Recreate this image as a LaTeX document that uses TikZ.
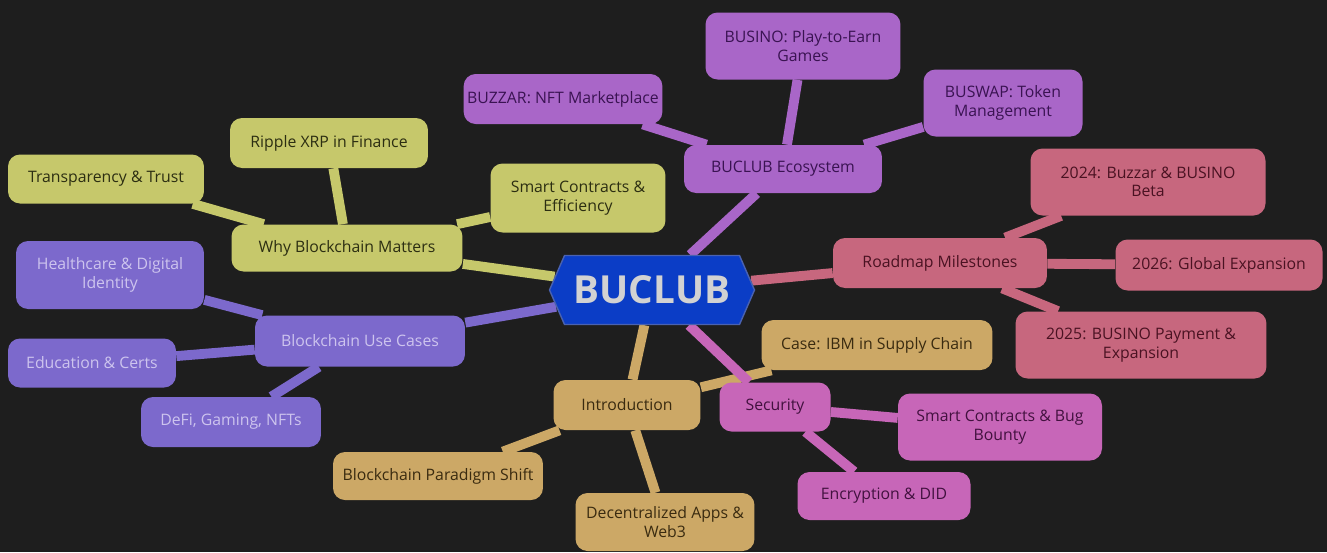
\documentclass[tikz,border=0pt]{standalone}
\usepackage{fontspec}
\setmainfont{Open Sans}
\usetikzlibrary{shapes.symbols,backgrounds}

\definecolor{bgdark}{HTML}{1E1E1E}
\definecolor{hubfill}{HTML}{0B3DC6}
\definecolor{hubline}{HTML}{4A62B0}
\definecolor{hubtext}{HTML}{D2D2D2}
\definecolor{whyfill}{HTML}{C6C86B}
\definecolor{whytext}{HTML}{2C2E12}
\definecolor{ecofill}{HTML}{A966C8}
\definecolor{ecotext}{HTML}{3A1352}
\definecolor{mapfill}{HTML}{C7677E}
\definecolor{maptext}{HTML}{4A1222}
\definecolor{usefill}{HTML}{7C69CC}
\definecolor{usetext}{HTML}{CDC4EE}
\definecolor{introfill}{HTML}{CCA866}
\definecolor{introtext}{HTML}{3A2B10}
\definecolor{secfill}{HTML}{C766B8}
\definecolor{sectext}{HTML}{42113F}

\tikzset{
  topic/.style={rectangle, rounded corners=0.24cm, inner sep=2pt, align=center,
    font=\fontsize{9}{10.5}\selectfont},
  hub/.style={signal, signal to=west and east, signal pointer angle=133,
    fill=hubfill, draw=hubline, line width=0.8pt, text=hubtext,
    minimum width=4.1cm, minimum height=1.38cm, inner sep=0pt,
    font=\fontsize{22}{24}\selectfont\bfseries},
  whybox/.style={topic, fill=whyfill, text=whytext},
  ecobox/.style={topic, fill=ecofill, text=ecotext},
  mapbox/.style={topic, fill=mapfill, text=maptext},
  usebox/.style={topic, fill=usefill, text=usetext},
  introbox/.style={topic, fill=introfill, text=introtext},
  secbox/.style={topic, fill=secfill, text=sectext},
  link/.style={line width=5.6pt},
}

\begin{document}
\begin{tikzpicture}[x=0.02cm, y=-0.02cm]
\useasboundingbox (0,0) rectangle (1327,552);
% Centre
\node[hub] (buclub) at (652,290) {BUCLUB};
% Why blockchain matters
\node[whybox, minimum width=4.62cm, minimum height=0.94cm] (why) at (347,248) {Why Blockchain Matters};
\node[whybox, minimum width=3.96cm, minimum height=1.0cm] (ripple) at (329,143) {Ripple XRP in Finance};
\node[whybox, minimum width=3.92cm, minimum height=0.98cm] (trust) at (106,179) {Transparency \& Trust};
\node[whybox, minimum width=3.5cm, minimum height=1.38cm] (smart) at (578,198) {Smart Contracts \&\\Efficiency};
% Ecosystem
\node[ecobox, minimum width=3.96cm, minimum height=0.96cm] (eco) at (783,169) {BUCLUB Ecosystem};
\node[ecobox, minimum width=3.66cm, minimum height=1.0cm] (buzzar) at (563,99) {BUZZAR: NFT Marketplace};
\node[ecobox, minimum width=3.9cm, minimum height=1.34cm] (busino) at (803,46) {BUSINO: Play-to-Earn\\Games};
\node[ecobox, minimum width=3.18cm, minimum height=1.34cm] (buswap) at (1003,103) {BUSWAP: Token\\Management};
% Roadmap
\node[mapbox, minimum width=4.28cm, minimum height=1.0cm] (roadmap) at (940,263) {Roadmap Milestones};
\node[mapbox, minimum width=4.7cm, minimum height=1.34cm] (y2024) at (1148,182) {2024: Buzzar \& BUSINO\\Beta};
\node[mapbox, minimum width=4.14cm, minimum height=1.02cm] (y2026) at (1219,265) {2026: Global Expansion};
\node[mapbox, minimum width=5.02cm, minimum height=1.34cm] (y2025) at (1141,345) {2025: BUSINO Payment \&\\Expansion};
% Use cases
\node[usebox, minimum width=4.2cm, minimum height=1.02cm] (uses) at (360,341) {Blockchain Use Cases};
\node[usebox, minimum width=3.76cm, minimum height=1.36cm] (health) at (110,275) {Healthcare \& Digital\\Identity};
\node[usebox, minimum width=3.36cm, minimum height=0.98cm] (edu) at (92,363) {Education \& Certs};
\node[usebox, minimum width=3.6cm, minimum height=1.0cm] (defi) at (231,422) {DeFi, Gaming, NFTs};
% Introduction
\node[introbox, minimum width=2.94cm, minimum height=1.0cm] (intro) at (627,405) {Introduction};
\node[introbox, minimum width=4.62cm, minimum height=1.0cm] (ibm) at (877,345) {Case: IBM in Supply Chain};
\node[introbox, minimum width=4.2cm, minimum height=0.96cm] (shift) at (438,476) {Blockchain Paradigm Shift};
\node[introbox, minimum width=3.58cm, minimum height=1.16cm] (dapps) at (665,522) {Decentralized Apps \&\\Web3};
% Security
\node[secbox, minimum width=2.22cm, minimum height=0.98cm] (sec) at (775,407) {Security};
\node[secbox, minimum width=4.08cm, minimum height=1.34cm] (bugs) at (1000,427) {Smart Contracts \& Bug\\Bounty};
\node[secbox, minimum width=3.46cm, minimum height=0.96cm] (crypt) at (884,496) {Encryption \& DID};
% Connectors
\begin{scope}[on background layer]
\fill[bgdark] (0,0) rectangle (1327,552);
\draw[link, whyfill] (buclub) -- (why);
\draw[link, whyfill] (why) -- (ripple);
\draw[link, whyfill] (why) -- (trust);
\draw[link, whyfill] (why) -- (smart);
\draw[link, ecofill] (buclub) -- (eco);
\draw[link, ecofill] (eco) -- (buzzar);
\draw[link, ecofill] (eco) -- (busino);
\draw[link, ecofill] (eco) -- (buswap);
\draw[link, mapfill] (buclub) -- (roadmap);
\draw[link, mapfill] (roadmap) -- (y2024);
\draw[link, mapfill] (roadmap) -- (y2026);
\draw[link, mapfill] (roadmap) -- (y2025);
\draw[link, usefill] (buclub) -- (uses);
\draw[link, usefill] (uses) -- (health);
\draw[link, usefill] (uses) -- (edu);
\draw[link, usefill] (uses) -- (defi);
\draw[link, introfill] (buclub) -- (intro);
\draw[link, introfill] (intro) -- (ibm);
\draw[link, introfill] (intro) -- (shift);
\draw[link, introfill] (intro) -- (dapps);
\draw[link, secfill] (buclub) -- (sec);
\draw[link, secfill] (sec) -- (bugs);
\draw[link, secfill] (sec) -- (crypt);
\end{scope}
\end{tikzpicture}
\end{document}
